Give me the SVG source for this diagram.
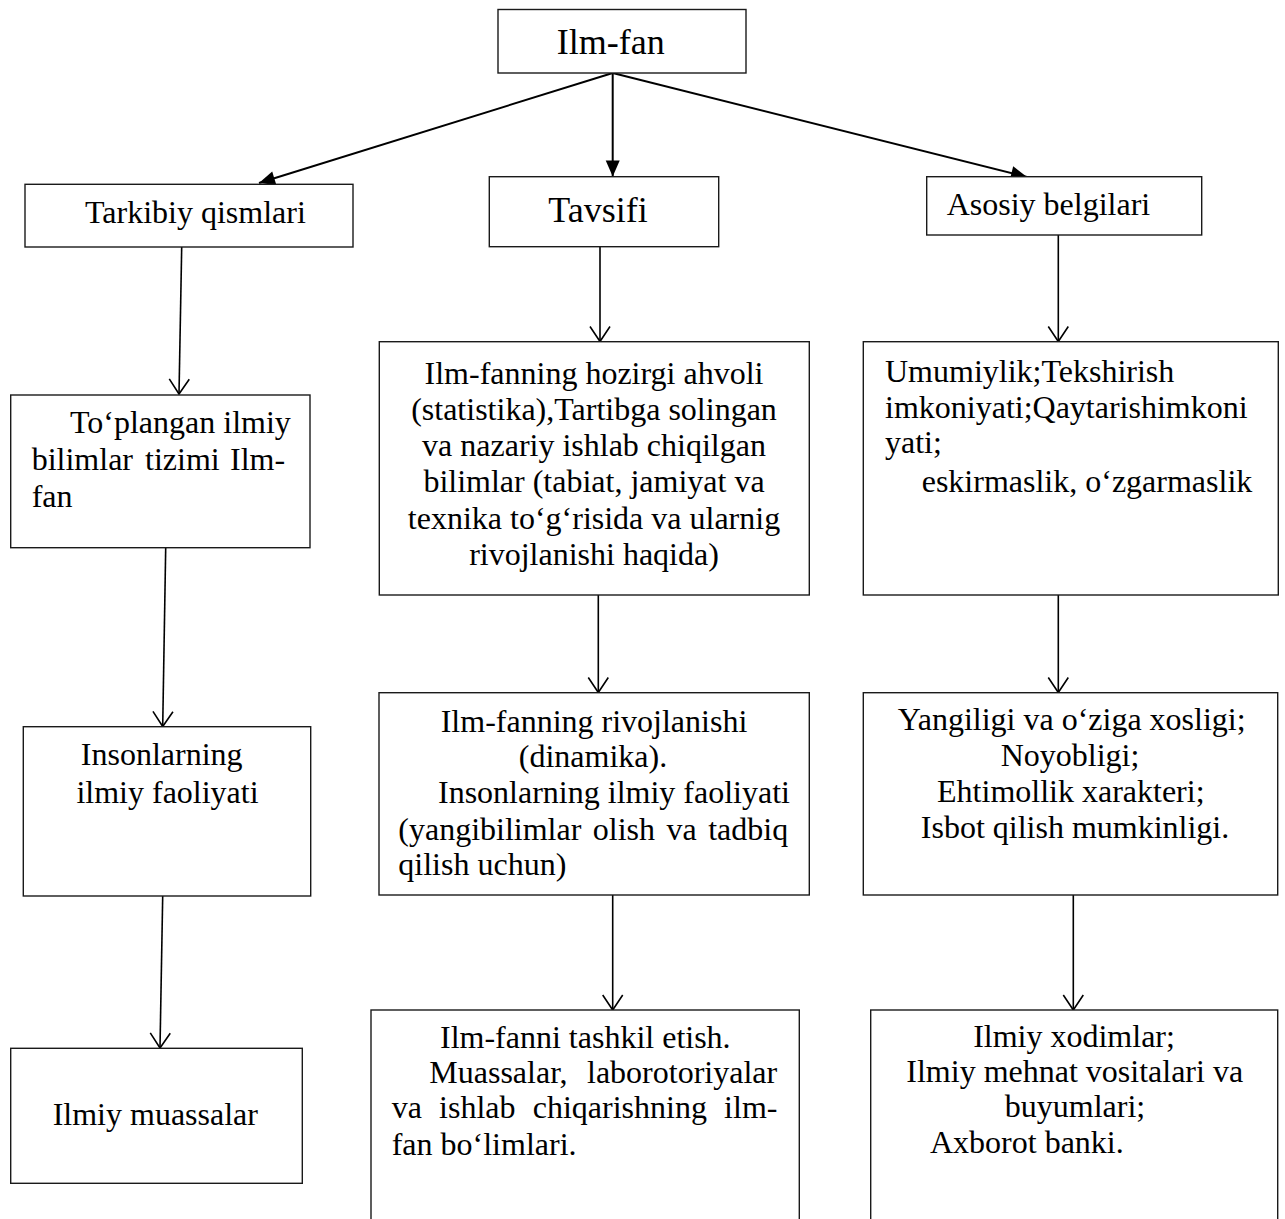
<svg xmlns="http://www.w3.org/2000/svg" width="1285" height="1219" viewBox="0 0 1285 1219">
  <style>
    .box { fill: #ffffff; stroke: #1a1a1a; stroke-width: 1.4; }
    .t { font-family: "Liberation Serif", "Times New Roman", serif; font-size: 32px; fill: #000000; }
    .big { font-size: 36px; }
    .mid { text-anchor: middle; }
    .edge { fill: none; stroke: #000000; stroke-width: 1.6; }
    .edge-bold { fill: none; stroke: #000000; stroke-width: 2; }
  </style>
  <defs>
    <marker id="head-solid" markerUnits="userSpaceOnUse" markerWidth="17" markerHeight="15" refX="16" refY="7" orient="auto" overflow="visible">
      <path d="M0,0 L16,7 L0,14 z" fill="#000000"/>
    </marker>
    <marker id="head-open" markerUnits="userSpaceOnUse" markerWidth="16" markerHeight="22" refX="15" refY="10" orient="auto" overflow="visible">
      <path d="M0,0 L15,10 L0,20" fill="none" stroke="#000000" stroke-width="1.6"/>
    </marker>
  </defs>

  <rect width="1285" height="1219" fill="#ffffff"/>

  <!-- connectors -->
  <g id="connectors">
    <line class="edge-bold" x1="612.7" y1="73" x2="259" y2="183" marker-end="url(#head-solid)"/>
    <line class="edge-bold" x1="612.7" y1="73" x2="612.7" y2="176.5" marker-end="url(#head-solid)"/>
    <line class="edge-bold" x1="612.7" y1="73" x2="1027" y2="177" marker-end="url(#head-solid)"/>

    <line class="edge" x1="181.7" y1="247" x2="179" y2="394" marker-end="url(#head-open)"/>
    <line class="edge" x1="165.7" y1="548" x2="162.7" y2="726.5" marker-end="url(#head-open)"/>
    <line class="edge" x1="162.7" y1="896" x2="160" y2="1048" marker-end="url(#head-open)"/>

    <line class="edge" x1="600" y1="247" x2="600" y2="341.5" marker-end="url(#head-open)"/>
    <line class="edge" x1="598.3" y1="595" x2="598.3" y2="692.5" marker-end="url(#head-open)"/>
    <line class="edge" x1="612.7" y1="895" x2="612.7" y2="1010" marker-end="url(#head-open)"/>

    <line class="edge" x1="1058.3" y1="235" x2="1058.3" y2="341.5" marker-end="url(#head-open)"/>
    <line class="edge" x1="1058.3" y1="595" x2="1058.3" y2="692.5" marker-end="url(#head-open)"/>
    <line class="edge" x1="1073.3" y1="895" x2="1073.3" y2="1010" marker-end="url(#head-open)"/>
  </g>

  <!-- root -->
  <g id="ilm-fan">
    <rect class="box" x="498" y="9.5" width="248" height="63.5"/>
    <text class="t big" x="556.7" y="54">Ilm-fan</text>
  </g>

  <!-- second level -->
  <g id="tarkibiy">
    <rect class="box" x="25" y="184.3" width="328" height="62.7"/>
    <text class="t" x="85" y="223">Tarkibiy qismlari</text>
  </g>
  <g id="tavsifi">
    <rect class="box" x="489.3" y="176.7" width="229.4" height="70"/>
    <text class="t big" x="548.3" y="221.7">Tavsifi</text>
  </g>
  <g id="asosiy">
    <rect class="box" x="926.7" y="176.7" width="275" height="58.3"/>
    <text class="t" x="946.7" y="215">Asosiy belgilari</text>
  </g>

  <!-- left column -->
  <g id="toplangan">
    <rect class="box" x="10.7" y="395" width="299.3" height="152.7"/>
    <text class="t" x="70" y="433.3">To‘plangan ilmiy</text>
    <text class="t" y="470"><tspan x="31.7">bilimlar</tspan><tspan x="145">tizimi</tspan><tspan x="230">Ilm-</tspan></text>
    <text class="t" x="31.7" y="506.7">fan</text>
  </g>
  <g id="faoliyat">
    <rect class="box" x="23.3" y="726.7" width="287.4" height="169.3"/>
    <text class="t mid" x="161.7" y="765">Insonlarning</text>
    <text class="t mid" x="167.5" y="803.3">ilmiy faoliyati</text>
  </g>
  <g id="muassalar">
    <rect class="box" x="10.7" y="1048.3" width="291.6" height="135"/>
    <text class="t mid" x="155.3" y="1125">Ilmiy muassalar</text>
  </g>

  <!-- middle column -->
  <g id="hozirgi-ahvol">
    <rect class="box" x="379.3" y="341.7" width="430" height="253.3"/>
    <text class="t mid" x="594" y="383.5">Ilm-fanning hozirgi ahvoli</text>
    <text class="t mid" x="594" y="419.8">(statistika),Tartibga solingan</text>
    <text class="t mid" x="594" y="456.1">va nazariy ishlab chiqilgan</text>
    <text class="t mid" x="594" y="492.4">bilimlar (tabiat, jamiyat va</text>
    <text class="t mid" x="594" y="528.7">texnika to‘g‘risida va ularnig</text>
    <text class="t mid" x="594" y="565">rivojlanishi haqida)</text>
  </g>
  <g id="rivojlanish">
    <rect class="box" x="379" y="692.7" width="430.3" height="202.3"/>
    <text class="t mid" x="594" y="731.7">Ilm-fanning rivojlanishi</text>
    <text class="t mid" x="593" y="767.3">(dinamika).</text>
    <text class="t" x="438" y="803.3">Insonlarning ilmiy faoliyati</text>
    <text class="t" y="840"><tspan x="398.3">(yangibilimlar</tspan><tspan x="592.8">olish</tspan><tspan x="666.5">va</tspan><tspan x="708.2">tadbiq</tspan></text>
    <text class="t" x="398.3" y="875">qilish uchun)</text>
  </g>
  <g id="tashkil-etish">
    <rect class="box" x="371" y="1010" width="428.3" height="230"/>
    <text class="t" x="440" y="1048.3">Ilm-fanni tashkil etish.</text>
    <text class="t" y="1083.3"><tspan x="429.3">Muassalar,</tspan><tspan x="587">laborotoriyalar</tspan></text>
    <text class="t" y="1118.3"><tspan x="391.7">va</tspan><tspan x="439.1">ishlab</tspan><tspan x="532.7">chiqarishning</tspan><tspan x="724.1">ilm-</tspan></text>
    <text class="t" x="391.7" y="1155">fan bo‘limlari.</text>
  </g>

  <!-- right column -->
  <g id="umumiylik">
    <rect class="box" x="863.3" y="341.7" width="415" height="253.3"/>
    <text class="t" x="885" y="381.7">Umumiylik;Tekshirish</text>
    <text class="t" x="885" y="418.3">imkoniyati;Qaytarishimkoni</text>
    <text class="t" x="885" y="453.3">yati;</text>
    <text class="t" x="921.7" y="491.7">eskirmaslik, o‘zgarmaslik</text>
  </g>
  <g id="yangilik">
    <rect class="box" x="863.3" y="692.7" width="414.4" height="202.3"/>
    <text class="t mid" x="1071.7" y="730">Yangiligi va o‘ziga xosligi;</text>
    <text class="t mid" x="1070" y="766">Noyobligi;</text>
    <text class="t mid" x="1070.8" y="801.7">Ehtimollik xarakteri;</text>
    <text class="t mid" x="1075" y="838.3">Isbot qilish mumkinligi.</text>
  </g>
  <g id="xodimlar">
    <rect class="box" x="870.7" y="1010" width="407" height="230"/>
    <text class="t mid" x="1074" y="1046.7">Ilmiy xodimlar;</text>
    <text class="t mid" x="1074.7" y="1081.7">Ilmiy mehnat vositalari va</text>
    <text class="t mid" x="1075" y="1116.7">buyumlari;</text>
    <text class="t" x="930" y="1153.3">Axborot banki.</text>
  </g>
</svg>
